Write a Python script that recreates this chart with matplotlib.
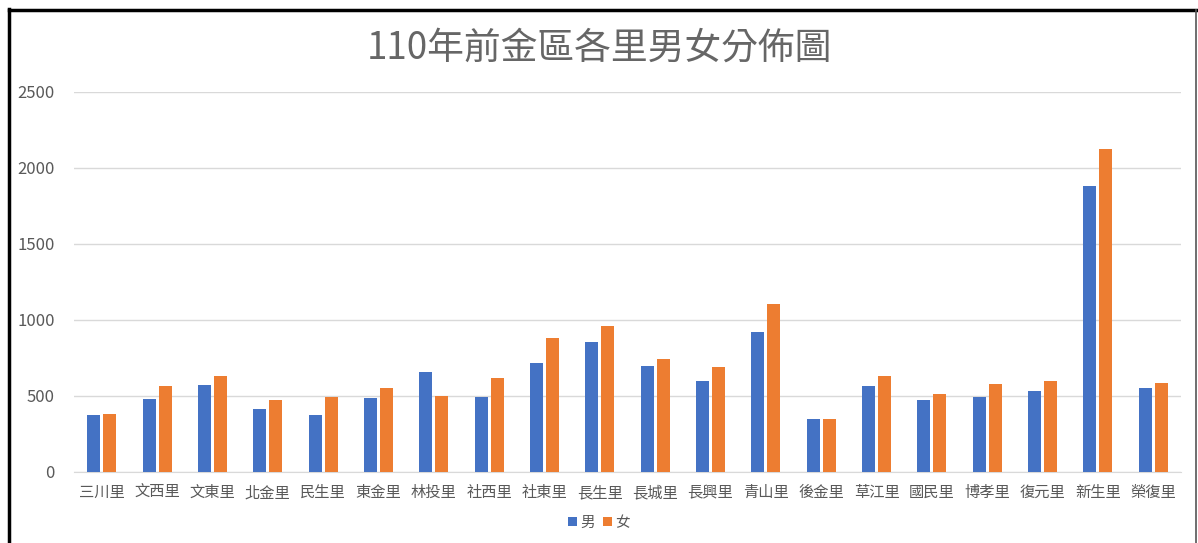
import numpy as np
import matplotlib
matplotlib.use('Agg')
import matplotlib.pyplot as plt
from matplotlib.lines import Line2D

plt.rcParams['font.family'] = ['Noto Sans CJK TC', 'DejaVu Sans']

# Data
villages = ['三川里', '文西里', '文東里', '北金里', '民生里', '東金里', '林投里', '社西里',
            '社東里', '長生里', '長城里', '長興里', '青山里', '後金里', '草江里', '國民里',
            '博孝里', '復元里', '新生里', '榮復里']
male = [372, 478, 571, 416, 372, 482, 657, 495, 718, 852,
        694, 595, 923, 348, 564, 472, 495, 533, 1880, 551]
female = [379, 564, 632, 472, 495, 553, 500, 619, 879, 960,
          742, 687, 1101, 348, 632, 513, 575, 595, 2125, 586]

blue = '#4472C4'
orange = '#ED7D31'
grey = '#595959'

fig = plt.figure(figsize=(11.98, 5.43), dpi=100)
ax = fig.add_axes([0.0618, 0.1313, 0.9240, 0.6993])

x = np.arange(len(villages))
w = 0.235
off = 0.145
ax.bar(x - off, male, width=w, color=blue, label='男', zorder=3)
ax.bar(x + off, female, width=w, color=orange, label='女', zorder=3)

ax.set_xlim(-0.5, len(villages) - 0.5)
ax.set_ylim(0, 2500)
ax.set_yticks(range(0, 2501, 500))
ax.yaxis.grid(True, color='#D9D9D9', linewidth=1, zorder=0)
for s in ['top', 'right', 'left']:
    ax.spines[s].set_visible(False)
ax.spines['bottom'].set_color('#D9D9D9')
ax.set_xticks(x)
ax.set_xticklabels(villages, fontsize=11, color=grey)
ax.tick_params(axis='x', length=0, pad=9)
ax.tick_params(axis='y', length=0, pad=14, labelsize=12, labelcolor=grey)

fig.text(0.5, 0.912, '110年前金區各里男女分佈圖', ha='center', va='center',
         fontsize=26.5, color='#666666')

fig.legend(loc='center', bbox_to_anchor=(0.5, 0.037), ncol=2, frameon=False,
           handlelength=0.6, handleheight=0.6, handletextpad=0.2, columnspacing=0.6,
           prop={'size': 10.5}, labelcolor=grey)

# frame around the chart
fig.add_artist(Line2D([0.0075, 0.0075], [0, 0.984], color='black', linewidth=2.5))
fig.add_artist(Line2D([0.0075, 0.9985], [0.982, 0.982], color='black', linewidth=2.5))
fig.add_artist(Line2D([0.9985, 0.9985], [0, 0.982], color='#555555', linewidth=1.2))

fig.savefig('out.png', dpi=100)
